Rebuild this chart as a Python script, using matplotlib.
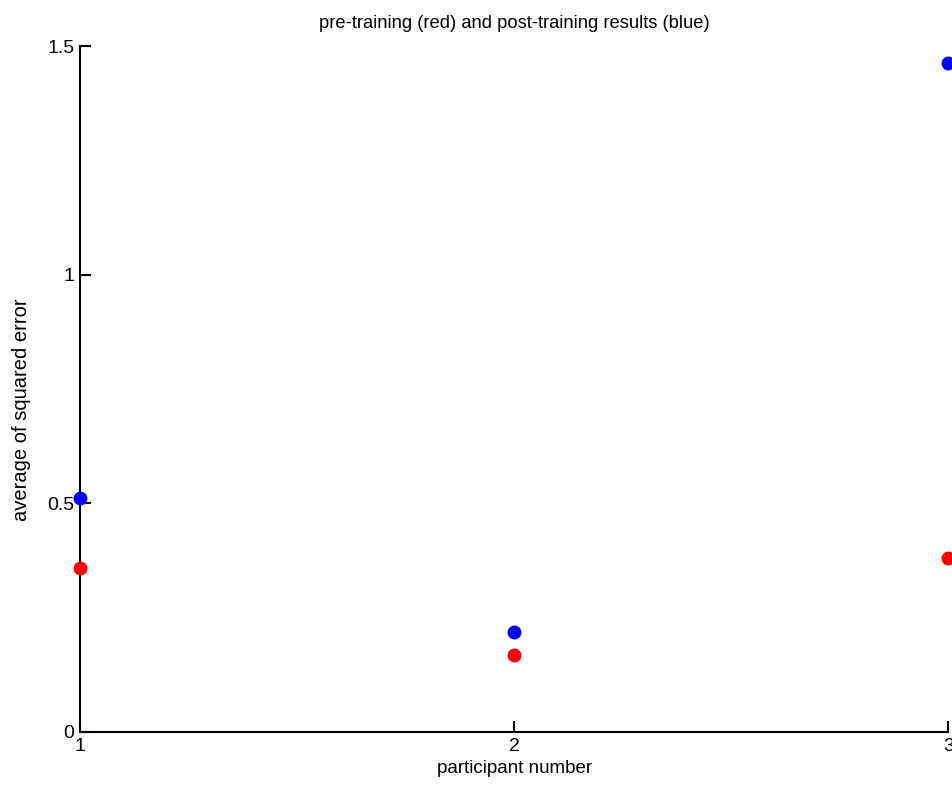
import matplotlib
matplotlib.use("Agg")
import matplotlib.pyplot as plt

# participant numbers and average squared error per participant
participants = [1, 2, 3]
pre_training = [0.359, 0.168, 0.380]    # red
post_training = [0.512, 0.219, 1.463]   # blue

plt.rcParams['font.family'] = ['Liberation Sans', 'DejaVu Sans']

fig = plt.figure(figsize=(9.52, 7.88), dpi=100)
ax = fig.add_axes([0.084, 0.0711, 0.912, 0.8705])

ax.plot(participants, pre_training, 'o', color='#ff0000', markersize=9, clip_on=False, zorder=3)
ax.plot(participants, post_training, 'o', color='#0000ff', markersize=9, clip_on=False, zorder=3)

ax.set_xlim(1, 3)
ax.set_ylim(0, 1.5)
ax.set_xticks([1, 2, 3])
ax.set_xticklabels(['1', '2', '3'])
ax.set_yticks([0, 0.5, 1, 1.5])
ax.set_yticklabels(['0', '0.5', '1', '1.5'])

ax.spines['top'].set_visible(False)
ax.spines['right'].set_visible(False)
ax.spines['left'].set_linewidth(1.5)
ax.spines['bottom'].set_linewidth(1.5)
ax.tick_params(direction='in', length=8, width=1.5, labelsize=14, pad=4)

ax.set_title("pre-training (red) and post-training results (blue)", fontsize=13.2, pad=13)
ax.set_xlabel("participant number", fontsize=13.5, labelpad=4)
ax.set_ylabel("average of squared error", fontsize=14.5)
ax.yaxis.set_label_coords(-0.056, 0.47)

fig.savefig("out.png", dpi=100)
